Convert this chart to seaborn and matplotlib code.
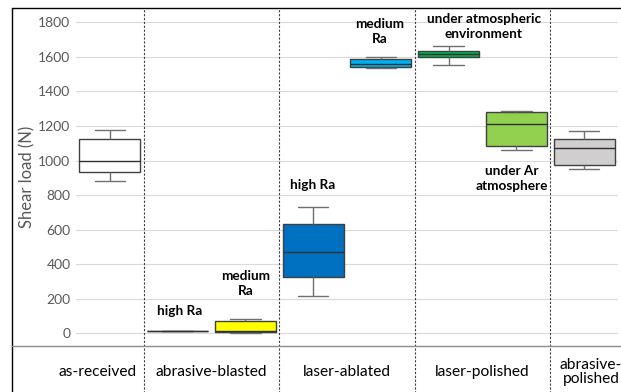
import numpy as np
import pandas as pd
import matplotlib
matplotlib.use("Agg")
import matplotlib.pyplot as plt
import matplotlib.transforms as mtransforms
from matplotlib.lines import Line2D
import seaborn as sns

# one column per box: [lower whisker, Q1, median, Q3, upper whisker]
samples = ["as-received", "blasted high Ra", "blasted medium Ra",
           "ablated high Ra", "ablated medium Ra",
           "polished atm", "polished Ar", "abrasive-polished"]
as_received = [881, 935, 995, 1123, 1177]
blasted_high = [13, 13, 13, 13, 13]
blasted_medium = [4, 9, 11, 73, 83]
ablated_high = [216, 324, 470, 632, 733]
ablated_medium = [1534, 1539, 1557, 1586, 1601]
polished_atm = [1555, 1598, 1615, 1634, 1665]
polished_ar = [1061, 1086, 1209, 1279, 1288]
abrasive_polished = [952, 976, 1072, 1126, 1172]
colors = ["#FFFFFF", "#FFFFFF", "#FFFF00", "#0070C0", "#00B0F0",
          "#00B050", "#92D050", "#D0CECE"]

groups = ["as-received", "abrasive-blasted", "laser-ablated", "laser-polished", "abrasive-\npolished"]
yticks = [0, 200, 400, 600, 800, 1000, 1200, 1400, 1600, 1800]

values = [as_received, blasted_high, blasted_medium, ablated_high,
          ablated_medium, polished_atm, polished_ar, abrasive_polished]
df = pd.DataFrame({
    "sample": np.repeat(samples, 5),
    "load": np.concatenate(values),
})

sns.set_style("white")
plt.rcParams["font.family"] = ["Lato", "DejaVu Sans"]

fig = plt.figure(figsize=(6.21, 3.92), dpi=100)
ax = fig.add_axes([76 / 621, 46 / 392, 542 / 621, 338 / 392])

for y in yticks:
    ax.axhline(y, color="#D9D9D9", lw=0.8, zorder=0)

sns.boxplot(data=df, x="sample", y="load", hue="sample", palette=colors,
            order=samples, hue_order=samples, whis=(0, 100), width=0.9, gap=0,
            saturation=1, linecolor="#404040", linewidth=1, legend=False, ax=ax,
            whiskerprops={"color": "#707070"}, capprops={"color": "#707070"},
            medianprops={"color": "#303030"}, showfliers=False)

ax.set_xlim(-0.5, 7.5)
ax.set_ylim(-73, 1883)
ax.set_xticks([])
ax.set_xlabel("")
ax.set_yticks(yticks)
ax.tick_params(axis="y", length=0, labelsize=10, labelcolor="#595959", pad=4)
ax.set_ylabel("Shear load (N)", fontsize=12, color="#595959")
ax.yaxis.set_label_coords(-0.075, 0.5)
for s in ax.spines.values():
    s.set_visible(False)

# dashed dividers between groups, reaching into the label row
trans = mtransforms.blended_transform_factory(ax.transData, ax.transAxes)
for xd in [0.5, 2.5, 4.5, 6.5]:
    ax.add_line(Line2D([xd, xd], [-0.14, 1.0], transform=trans, color="#404040",
                       lw=0.8, ls=(0, (2, 1.5)), clip_on=False))

# frame lines
fig.add_artist(Line2D([12 / 621, 12 / 621], [0, 1 - 8 / 392], color="black", lw=1))
fig.add_artist(Line2D([12 / 621, 1], [1 - 8 / 392, 1 - 8 / 392], color="black", lw=1))
fig.add_artist(Line2D([12 / 621, 1], [46 / 392, 46 / 392], color="#8C8C8C", lw=1))

# group labels
for xg, name in zip([-0.18, 1.5, 3.5, 5.5, 7.1], groups):
    ax.text(xg, -0.077, name, transform=trans, ha="center", va="center",
            fontsize=11.2, color="black", linespacing=1.0)

# annotations
notes = [(1.03, 129, "high Ra"), (2.0, 291, "medium\nRa"), (2.99, 858, "high Ra"),
         (3.98, 1749, "medium\nRa"), (5.52, 1778, "under atmospheric\nenvironment"),
         (5.93, 896, "under Ar\natmosphere")]
for xn, yn, t in notes:
    ax.text(xn, yn, t, ha="center", va="center", fontsize=9.8,
            fontweight="bold", color="black", linespacing=1.3)

fig.savefig("out.png", dpi=100)
